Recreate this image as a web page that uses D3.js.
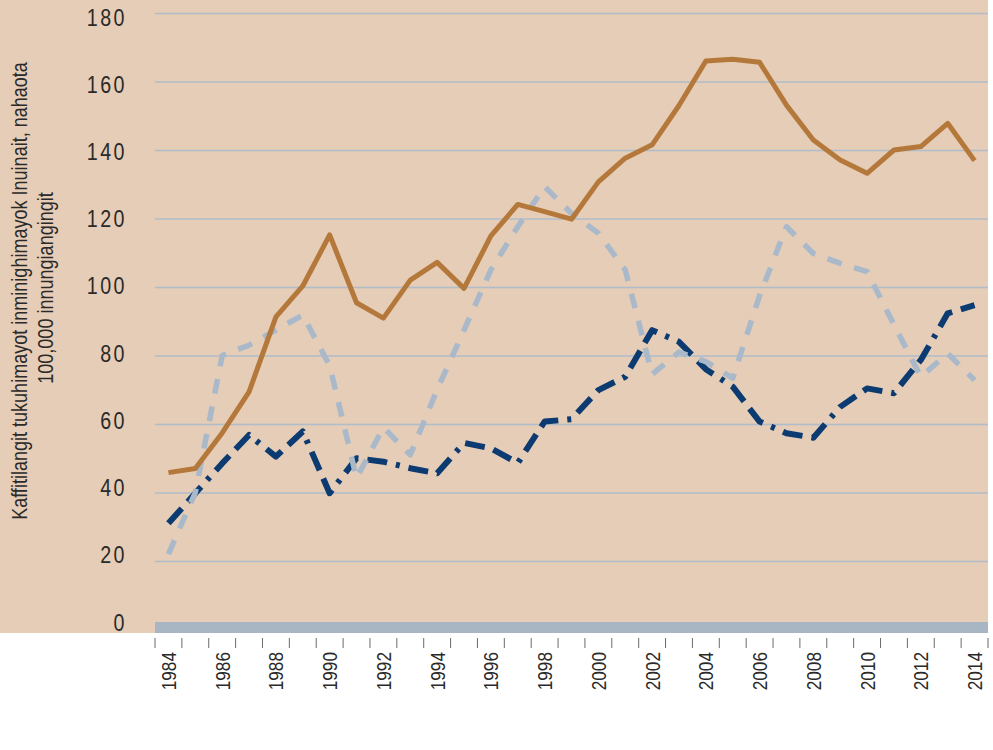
<!DOCTYPE html>
<html>
<head>
<meta charset="utf-8">
<script src="https://cdn.jsdelivr.net/npm/d3@7"></script>
<style>
  body { margin: 0; background: #fff; }
  svg { display: block; font-family: "Liberation Sans", Arial, sans-serif; }
</style>
</head>
<body>
<svg id="svg" width="993" height="750"></svg>
<script>
// data, 1984..2014
const years = d3.range(1984, 2015);
const yTicks = [0, 20, 40, 60, 80, 100, 120, 140, 160, 180];
const xLabelYears = years.filter(d => d % 2 == 0);

const seriesOrange = [45.8, 47, 57.4, 69.4, 91.3, 100.3, 115.2, 95.4, 90.9, 102, 107.2, 99.6, 114.9, 124.1, 122, 119.8,
  130.7, 137.6, 141.5, 153, 166, 166.5, 165.6, 153.1, 142.9, 137.1, 133.2, 140, 141, 147.8, 136.9];
const seriesGrey = [22, 40, 80, 83, 87.4, 91.8, 77, 44.2, 59, 51, 70, 87.4, 105, 117.6, 129.3, 121.5,
  115.7, 105, 74.5, 81, 78.2, 73.4, 97.5, 117.6, 109.8, 106.9, 104.5, 89, 73.8, 80.6, 72.8];
const seriesNavy = [31, 39.8, 48.5, 56.8, 50.5, 57.8, 39.8, 50, 49, 47.1, 45.6, 54.5, 52.9, 48.6, 60.7, 61.4,
  69.9, 73.8, 87.4, 84, 76, 70.9, 60.7, 57.3, 56, 65, 70.4, 69, 78.7, 92.3, 94.7];

const titleLines = ['Kaffitilangit tukuhimayot inminighimayok Inuinait, nahaota', '100,000 innungiangingit'];

const svg = d3.select('#svg');

const plot = { left: 155, right: 988, bottom: 633 };
const narrow = 0.82; // no narrow font installed, squash Liberation Sans instead

const xScale = d3.scaleBand()
  .domain(years)
  .range([plot.left, plot.right]);

const yScale = d3.scaleLinear()
  .domain([0, 180])
  .range([629.5, 13]);

// the tick labels drift a little from the grid in the original
const yLabelScale = d3.scaleLinear()
  .domain([0, 180])
  .range([630, 25]);

// tan background
svg.append('rect')
  .attr('x', 0)
  .attr('y', 0)
  .attr('width', plot.right)
  .attr('height', plot.bottom)
  .attr('fill', '#e6cdb7');

// grid lines
const gridG = svg.append('g')
  .attr('class', 'grid')
  .attr('transform', `translate(${plot.left},0)`)
  .call(d3.axisLeft(yScale).tickValues(yTicks.slice(1)).tickSize(-(plot.right - plot.left)).tickFormat(''));
gridG.select('path.domain').remove();
gridG.selectAll('line')
  .attr('stroke', '#afbdcb')
  .attr('stroke-width', 1.4);

// y tick labels
const yLabelG = svg.append('g')
  .attr('class', 'axis y-axis')
  .attr('transform', 'translate(127,0)')
  .call(d3.axisLeft(yLabelScale).tickValues(yTicks).tickSize(0).tickPadding(0));
yLabelG.select('path.domain').remove();
yLabelG.selectAll('text')
  .attr('dy', 0)
  .attr('transform', `scale(${narrow},1)`)
  .style('font-family', '"Liberation Sans", Arial, sans-serif')
  .style('font-size', '24px')
  .style('letter-spacing', '3px')
  .attr('fill', '#2a2a2a');

// thick baseline band at zero
svg.append('rect')
  .attr('x', plot.left)
  .attr('y', yScale(0) - 7.5)
  .attr('width', plot.right - plot.left)
  .attr('height', 11)
  .attr('fill', '#a8b6c3');

// x tick marks on the band edges
const tickPos = years.map(d => xScale(d)).concat([plot.right]);
svg.append('g')
  .selectAll('line')
  .data(tickPos)
  .join('line')
  .attr('x1', d => d)
  .attr('x2', d => d)
  .attr('y1', 638)
  .attr('y2', 648)
  .attr('stroke', '#6b6b6b')
  .attr('stroke-width', 1);

// x labels, rotated
svg.append('g')
  .selectAll('text')
  .data(xLabelYears)
  .join('text')
  .attr('transform', d => `translate(${xScale(d) + xScale.bandwidth() / 2 + 7.5},652) rotate(-90) scale(${narrow},1)`)
  .attr('text-anchor', 'end')
  .style('font-size', '21px')
  .attr('fill', '#2a2a2a')
  .text(d => d);

// y title
svg.append('g')
  .selectAll('text')
  .data(titleLines)
  .join('text')
  .attr('transform', (d, i) => `translate(${26.5 + i * 26},${291 - i * 3}) rotate(-90) scale(${narrow},1)`)
  .attr('text-anchor', 'middle')
  .style('font-size', '22px')
  .attr('fill', '#2a2a2a')
  .text(d => d);

// lines
const line = d3.line()
  .x((d, i) => xScale(years[i]) + xScale.bandwidth() / 2)
  .y(d => yScale(d));

svg.append('path')
  .datum(seriesNavy)
  .attr('d', line)
  .attr('fill', 'none')
  .attr('stroke', '#0c3b72')
  .attr('stroke-width', 6)
  .attr('stroke-dasharray', '20,9,20,9,4,9')
  .attr('stroke-linejoin', 'round');

svg.append('path')
  .datum(seriesGrey)
  .attr('d', line)
  .attr('fill', 'none')
  .attr('stroke', '#a9b9c9')
  .attr('stroke-width', 5.5)
  .attr('stroke-dasharray', '15,13')
  .attr('stroke-linejoin', 'round');

svg.append('path')
  .datum(seriesOrange)
  .attr('d', line)
  .attr('fill', 'none')
  .attr('stroke', '#b5783b')
  .attr('stroke-width', 5)
  .attr('stroke-linejoin', 'round');
</script>
</body>
</html>
